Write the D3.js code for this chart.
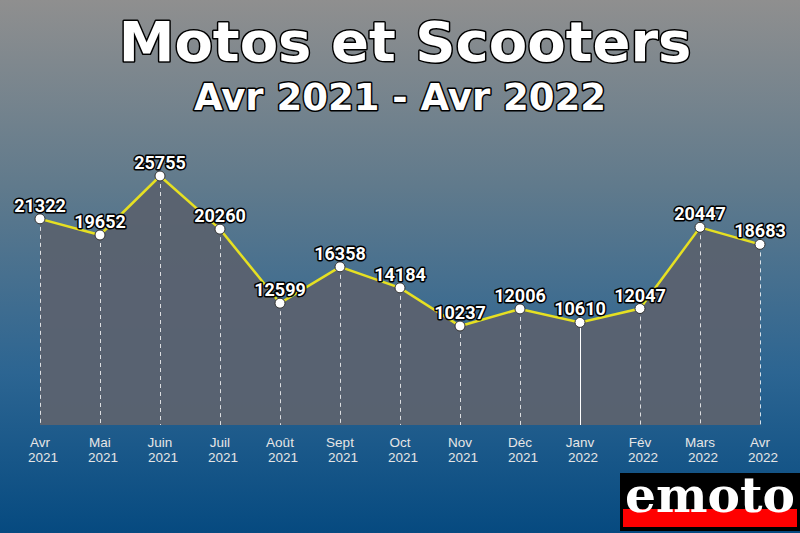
<!DOCTYPE html>
<html><head><meta charset="utf-8">
<script src="https://cdn.jsdelivr.net/npm/d3@7/dist/d3.min.js"></script>
<style>html,body{margin:0;padding:0;}svg{display:block;}</style>
</head><body>
<script>
const months = ["Avr","Mai","Juin","Juil","Août","Sept","Oct","Nov","Déc","Janv","Fév","Mars","Avr"];
const years = ["2021","2021","2021","2021","2021","2021","2021","2021","2021","2022","2022","2022","2022"];
const values = [21322,19652,25755,20260,12599,16358,14184,10237,12006,10610,12047,20447,18683];
const title = "Motos et Scooters";
const subtitle = "Avr 2021 - Avr 2022";

const W=800,H=533;
const svg=d3.select("body").append("svg").attr("width",W).attr("height",H);
const defs=svg.append("defs");
const g=defs.append("linearGradient").attr("id","bg").attr("x1",0).attr("y1",0).attr("x2",0).attr("y2",1);
g.append("stop").attr("offset","0%").attr("stop-color","#8f8f8f");
g.append("stop").attr("offset","35%").attr("stop-color","#607a8c");
g.append("stop").attr("offset","70%").attr("stop-color","#2c6592");
g.append("stop").attr("offset","100%").attr("stop-color","#064a80");
svg.append("rect").attr("width",W).attr("height",H).attr("fill","url(#bg)");

const idx=d3.range(values.length);
const x=d3.scalePoint().domain(idx).range([40,760]);
const y=d3.scaleLinear().domain([0,25755]).range([425,176]);

// area
const area=d3.area().x(i=>x(i)).y0(y(0)).y1(i=>y(values[i]));
svg.append("path").datum(idx).attr("d",area).attr("fill","#5a6270").attr("fill-opacity",0.97);

// vertical dashed lines
svg.selectAll("line.v").data(idx).join("line")
 .attr("x1",i=>x(i)+0.5).attr("x2",i=>x(i)+0.5).attr("y1",i=>y(values[i])).attr("y2",y(0))
 .attr("stroke","#ffffff").attr("stroke-width",1)
 .attr("stroke-dasharray",i=>months[i]==="Janv"?null:"4,4")
 .attr("stroke-opacity",i=>months[i]==="Janv"?1:0.8);

// line
const line=d3.line().x(i=>x(i)).y(i=>y(values[i]));
svg.append("path").datum(idx).attr("d",line).attr("fill","none").attr("stroke","#e6e022").attr("stroke-width",2.5);

// points
svg.selectAll("circle").data(idx).join("circle")
 .attr("cx",i=>x(i)).attr("cy",i=>y(values[i])).attr("r",5)
 .attr("fill","#ffffff").attr("stroke","#333").attr("stroke-width",1);

// value labels
svg.selectAll("text.val").data(idx).join("text")
 .attr("x",i=>x(i)).attr("y",i=>y(values[i])-7)
 .attr("text-anchor","middle").attr("font-family","Roboto").attr("font-weight","bold").attr("font-size",18)
 .attr("fill","#fff").attr("stroke","#000").attr("stroke-width",3).attr("paint-order","stroke").attr("stroke-linejoin","round")
 .text(i=>values[i]);

// axis labels
const ax=svg.selectAll("g.ax").data(idx).join("g");
ax.append("text").attr("x",i=>x(i)).attr("y",447).attr("text-anchor","middle")
 .attr("font-family","Liberation Sans").attr("font-size",13.5).attr("fill","#e6e6e6").text(i=>months[i]);
ax.append("text").attr("x",i=>x(i)+3).attr("y",462).attr("text-anchor","middle")
 .attr("font-family","Liberation Sans").attr("font-size",13.5).attr("fill","#e6e6e6").text(i=>years[i]);

// titles
svg.append("text").attr("x",405).attr("y",61).attr("text-anchor","middle")
 .attr("font-family","DejaVu Sans").attr("font-weight","bold").attr("font-size",56)
 .attr("fill","#fff").attr("stroke","#000").attr("stroke-width",3).attr("paint-order","stroke").attr("stroke-linejoin","round")
 .text(title);
svg.append("text").attr("x",400).attr("y",110).attr("text-anchor","middle")
 .attr("font-family","DejaVu Sans").attr("font-weight","bold").attr("font-size",37)
 .attr("fill","#fff").attr("stroke","#000").attr("stroke-width",3).attr("paint-order","stroke").attr("stroke-linejoin","round")
 .text(subtitle);

// logo
const lg=svg.append("g");
lg.append("rect").attr("x",620).attr("y",473).attr("width",180).attr("height",58).attr("fill","#000");
lg.append("rect").attr("x",623).attr("y",509).attr("width",174).attr("height",18).attr("fill","#ff0000");
lg.append("text").attr("x",710).attr("y",512).attr("text-anchor","middle")
 .attr("font-family","DejaVu Serif").attr("font-weight","bold").attr("font-size",48)
 .attr("textLength",170).attr("lengthAdjust","spacingAndGlyphs")
 .attr("fill","#fff").text("emoto");
</script>
</body></html>
